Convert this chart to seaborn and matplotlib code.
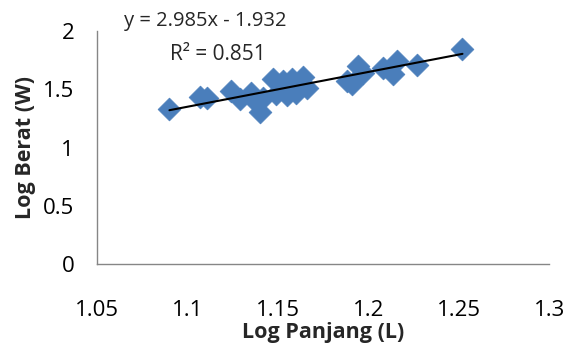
import matplotlib
matplotlib.use("Agg")
import matplotlib.pyplot as plt
import numpy as np
import pandas as pd
import seaborn as sns

# log length / log weight readings
log_panjang = [1.090, 1.107, 1.111, 1.124, 1.129, 1.135, 1.138, 1.140, 1.142,
               1.147, 1.149, 1.153, 1.155, 1.158, 1.160, 1.164, 1.166,
               1.188, 1.191, 1.194, 1.197, 1.208, 1.2135, 1.216, 1.227, 1.252]
log_berat = [1.336, 1.431, 1.425, 1.490, 1.420, 1.470, 1.390, 1.310, 1.430,
             1.590, 1.460, 1.570, 1.450, 1.590, 1.470, 1.610, 1.510,
             1.575, 1.550, 1.700, 1.640, 1.680, 1.630, 1.740, 1.710, 1.850]

slope = 2.985
intercept = -1.932
r_squared = 0.851

x_ticks = [1.05, 1.1, 1.15, 1.2, 1.25, 1.3]
x_tick_labels = ["1.05", "1.1", "1.15", "1.2", "1.25", "1.3"]
y_ticks = [0, 0.5, 1, 1.5, 2]
y_tick_labels = ["0", "0.5", "1", "1.5", "2"]

df = pd.DataFrame({"log_panjang": log_panjang, "log_berat": log_berat})

sns.set_style("white")
plt.rcParams["font.family"] = ["Open Sans", "DejaVu Sans"]

fig = plt.figure(figsize=(5.71, 3.5), dpi=100)
ax = fig.add_axes([0.170, 0.245, 0.792, 0.666])

sns.scatterplot(data=df, x="log_panjang", y="log_berat", marker="D", s=135,
                color="#4A7EBB", edgecolor="#4A7EBB", linewidth=0.5, ax=ax, zorder=2)

x_line = np.array([min(log_panjang), max(log_panjang)])
ax.plot(x_line, slope * x_line + intercept, color="black", linewidth=1.5, zorder=3)

ax.set_xlim(1.05, 1.3)
ax.set_ylim(0, 2)
ax.set_xticks(x_ticks)
ax.set_xticklabels(x_tick_labels)
ax.set_yticks(y_ticks)
ax.set_yticklabels(y_tick_labels)

for side in ("top", "right"):
    ax.spines[side].set_visible(False)
for side in ("left", "bottom"):
    ax.spines[side].set_color("#868686")
    ax.spines[side].set_linewidth(1.0)

ax.tick_params(axis="both", which="major", direction="out", length=6.5, width=1,
               color="#868686", labelsize=16, labelcolor="black")
ax.tick_params(axis="x", pad=19)
ax.tick_params(axis="y", pad=10)

ax.set_xlabel("Log Panjang (L)", fontsize=15.5, fontweight="bold", labelpad=1)
ax.set_ylabel("Log Berat (W)", fontsize=15.5, fontweight="bold", labelpad=5)

ax.text(1.1097, 2.09, f"y = {slope:.3f}x - {abs(intercept):.3f}", fontsize=14.5,
        ha="center", va="center", clip_on=False)
ax.text(1.1169, 1.80, f"R² = {r_squared:.3f}", fontsize=15, ha="center", va="center")

fig.savefig("out.png", dpi=100)
